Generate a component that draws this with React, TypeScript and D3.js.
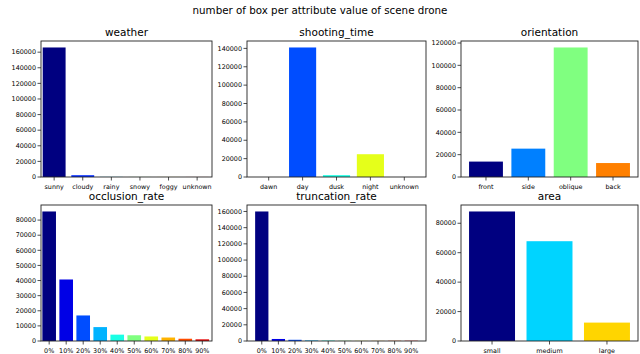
import React from 'react';
import * as d3 from 'd3';

// counts
const weatherLabels = ['sunny', 'cloudy', 'rainy', 'snowy', 'foggy', 'unknown'];
const weatherCounts = [166000, 2300, 150, 100, 80, 60];
const weatherTicks = [0, 20000, 40000, 60000, 80000, 100000, 120000, 140000, 160000];

const shootingLabels = ['dawn', 'day', 'dusk', 'night', 'unknown'];
const shootingCounts = [0, 141000, 2000, 24800, 0];
const shootingTicks = [0, 20000, 40000, 60000, 80000, 100000, 120000, 140000];

const orientationLabels = ['front', 'side', 'oblique', 'back'];
const orientationCounts = [13800, 25400, 116000, 12500];
const orientationTicks = [0, 20000, 40000, 60000, 80000, 100000, 120000];

const rateLabels = ['0%', '10%', '20%', '30%', '40%', '50%', '60%', '70%', '80%', '90%'];
const occlusionCounts = [85700, 40700, 16900, 9200, 4200, 3800, 3000, 2300, 1500, 1100];
const occlusionTicks = [0, 10000, 20000, 30000, 40000, 50000, 60000, 70000, 80000];

const truncationCounts = [160000, 2500, 1500, 700, 500, 300, 200, 200, 300, 300];
const truncationTicks = [0, 20000, 40000, 60000, 80000, 100000, 120000, 140000, 160000];

const areaLabels = ['small', 'medium', 'large'];
const areaCounts = [88000, 67800, 12500];
const areaTicks = [0, 20000, 40000, 60000, 80000];

// matplotlib jet colormap
const jet = (t: number) => {
    const clip = (v: number) => Math.max(0, Math.min(1, v));
    const r = clip(Math.min(4 * t - 1.5, -4 * t + 4.5));
    const g = clip(Math.min(4 * t - 0.5, -4 * t + 3.5));
    const b = clip(Math.min(4 * t + 0.5, -4 * t + 2.5));
    return d3.rgb(r * 255, g * 255, b * 255).formatHex();
};

const font = 'DejaVu Sans, sans-serif';

function Panel({ box, title, labels, values, ticks, xDomain }: any) {
    const [left, top, right, bottom] = box;
    const n = labels.length;
    const pad = 0.05 * (n - 1 + 0.8);
    const domain = xDomain || [-0.4 - pad, n - 1 + 0.4 + pad];
    const xScale = d3.scaleLinear().domain(domain).range([left, right]);
    const yScale = d3.scaleLinear().domain([0, d3.max(values as number[])! * 1.05]).range([bottom, top]);
    const bw = xScale(0.8) - xScale(0);

    return (
        <g>
            {values.map((v: number, i: number) => (
                <rect
                    key={labels[i]}
                    x={xScale(i - 0.4)}
                    y={yScale(v)}
                    width={bw}
                    height={bottom - yScale(v)}
                    fill={jet(i / n)}
                />
            ))}
            <rect x={left} y={top} width={right - left} height={bottom - top} fill="none" stroke="#222" strokeWidth={0.9} />
            {ticks.map((t: number) => (
                <g key={t}>
                    <line x1={left - 3.5} x2={left} y1={yScale(t)} y2={yScale(t)} stroke="#222" strokeWidth={0.8} />
                    <text x={left - 5} y={yScale(t)} dy="0.35em" textAnchor="end" fontSize="6.4px" fontFamily={font}>
                        {t}
                    </text>
                </g>
            ))}
            {labels.map((l: string, i: number) => (
                <g key={l}>
                    <line x1={xScale(i)} x2={xScale(i)} y1={bottom} y2={bottom + 3.5} stroke="#222" strokeWidth={0.8} />
                    <text x={xScale(i)} y={bottom + 12} textAnchor="middle" fontSize="6.4px" fontFamily={font}>
                        {l}
                    </text>
                </g>
            ))}
            <text x={(left + right) / 2} y={top - 5} textAnchor="middle" fontSize="10.5px" fontFamily={font}>
                {title}
            </text>
        </g>
    );
}

export default function App() {
    return (
        <div style={{ position: 'absolute', left: 0, top: 0 }}>
            <svg width={640} height={354} style={{ display: 'block', background: '#fff' }}>
                <text x={320} y={14} textAnchor="middle" fontSize="10.3px" fontFamily={font}>
                    number of box per attribute value of scene drone
                </text>
                <Panel box={[41, 41, 212, 177]} title="weather" labels={weatherLabels} values={weatherCounts} ticks={weatherTicks} xDomain={[-0.46, 5.52]} />
                <Panel box={[247, 41, 426, 177]} title="shooting_time" labels={shootingLabels} values={shootingCounts} ticks={shootingTicks} />
                <Panel box={[461, 41, 638, 177]} title="orientation" labels={orientationLabels} values={orientationCounts} ticks={orientationTicks} />
                <Panel box={[41, 205, 212, 341]} title="occlusion_rate" labels={rateLabels} values={occlusionCounts} ticks={occlusionTicks} xDomain={[-0.48, 9.57]} />
                <Panel box={[247, 205, 426, 341]} title="truncation_rate" labels={rateLabels} values={truncationCounts} ticks={truncationTicks} />
                <Panel box={[461, 205, 638, 341]} title="area" labels={areaLabels} values={areaCounts} ticks={areaTicks} />
            </svg>
        </div>
    );
}
